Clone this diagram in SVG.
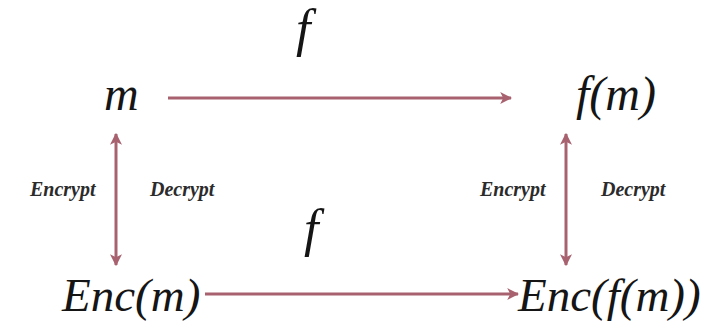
<svg xmlns="http://www.w3.org/2000/svg" width="713" height="322" viewBox="0 0 713 322">
  <defs>
    <marker id="ah" viewBox="0 0 10 10" refX="9" refY="5" markerWidth="4" markerHeight="4" orient="auto-start-reverse" markerUnits="strokeWidth">
      <path d="M0,0 L10,5 L0,10 L2.5,5 Z" fill="#a8616f"/>
    </marker>
  </defs>
  <rect width="713" height="322" fill="#ffffff"/>

  <g id="connectors" stroke="#a8616f" stroke-width="3" fill="none">
    <line x1="168" y1="98" x2="511" y2="98" marker-end="url(#ah)"/>
    <line x1="205" y1="294" x2="518" y2="294" marker-end="url(#ah)"/>
    <line x1="116" y1="134" x2="116" y2="265" marker-start="url(#ah)" marker-end="url(#ah)"/>
    <line x1="566" y1="134" x2="566" y2="265" marker-start="url(#ah)" marker-end="url(#ah)"/>
  </g>
  <g id="labels">
    <text x="296" y="46" font-family="Liberation Serif" font-style="italic" font-size="52" fill="#151515">f</text>
    <text x="304" y="246" font-family="Liberation Serif" font-style="italic" font-size="52" fill="#151515">f</text>
    <text x="30" y="196" font-family="Liberation Serif" font-style="italic" font-weight="bold" font-size="20" fill="#2b2b2b">Encrypt</text>
    <text x="150" y="196" font-family="Liberation Serif" font-style="italic" font-weight="bold" font-size="20" fill="#2b2b2b">Decrypt</text>
    <text x="480" y="196" font-family="Liberation Serif" font-style="italic" font-weight="bold" font-size="20" fill="#2b2b2b">Encrypt</text>
    <text x="601" y="196" font-family="Liberation Serif" font-style="italic" font-weight="bold" font-size="20" fill="#2b2b2b">Decrypt</text>
  </g>

  <g id="node-m">
    <text x="104" y="110" font-family="Liberation Serif" font-style="italic" font-size="48" fill="#151515">m</text>
  </g>
  <g id="node-fm">
    <text x="576" y="110" font-family="Liberation Serif" font-style="italic" font-size="48" fill="#151515">f(m)</text>
  </g>
  <g id="node-encm">
    <text x="62" y="311" font-family="Liberation Serif" font-style="italic" font-size="47" fill="#151515">Enc(m)</text>
  </g>
  <g id="node-encfm">
    <text x="518" y="311" font-family="Liberation Serif" font-style="italic" font-size="47" fill="#151515">Enc(f(m))</text>
  </g>
</svg>
